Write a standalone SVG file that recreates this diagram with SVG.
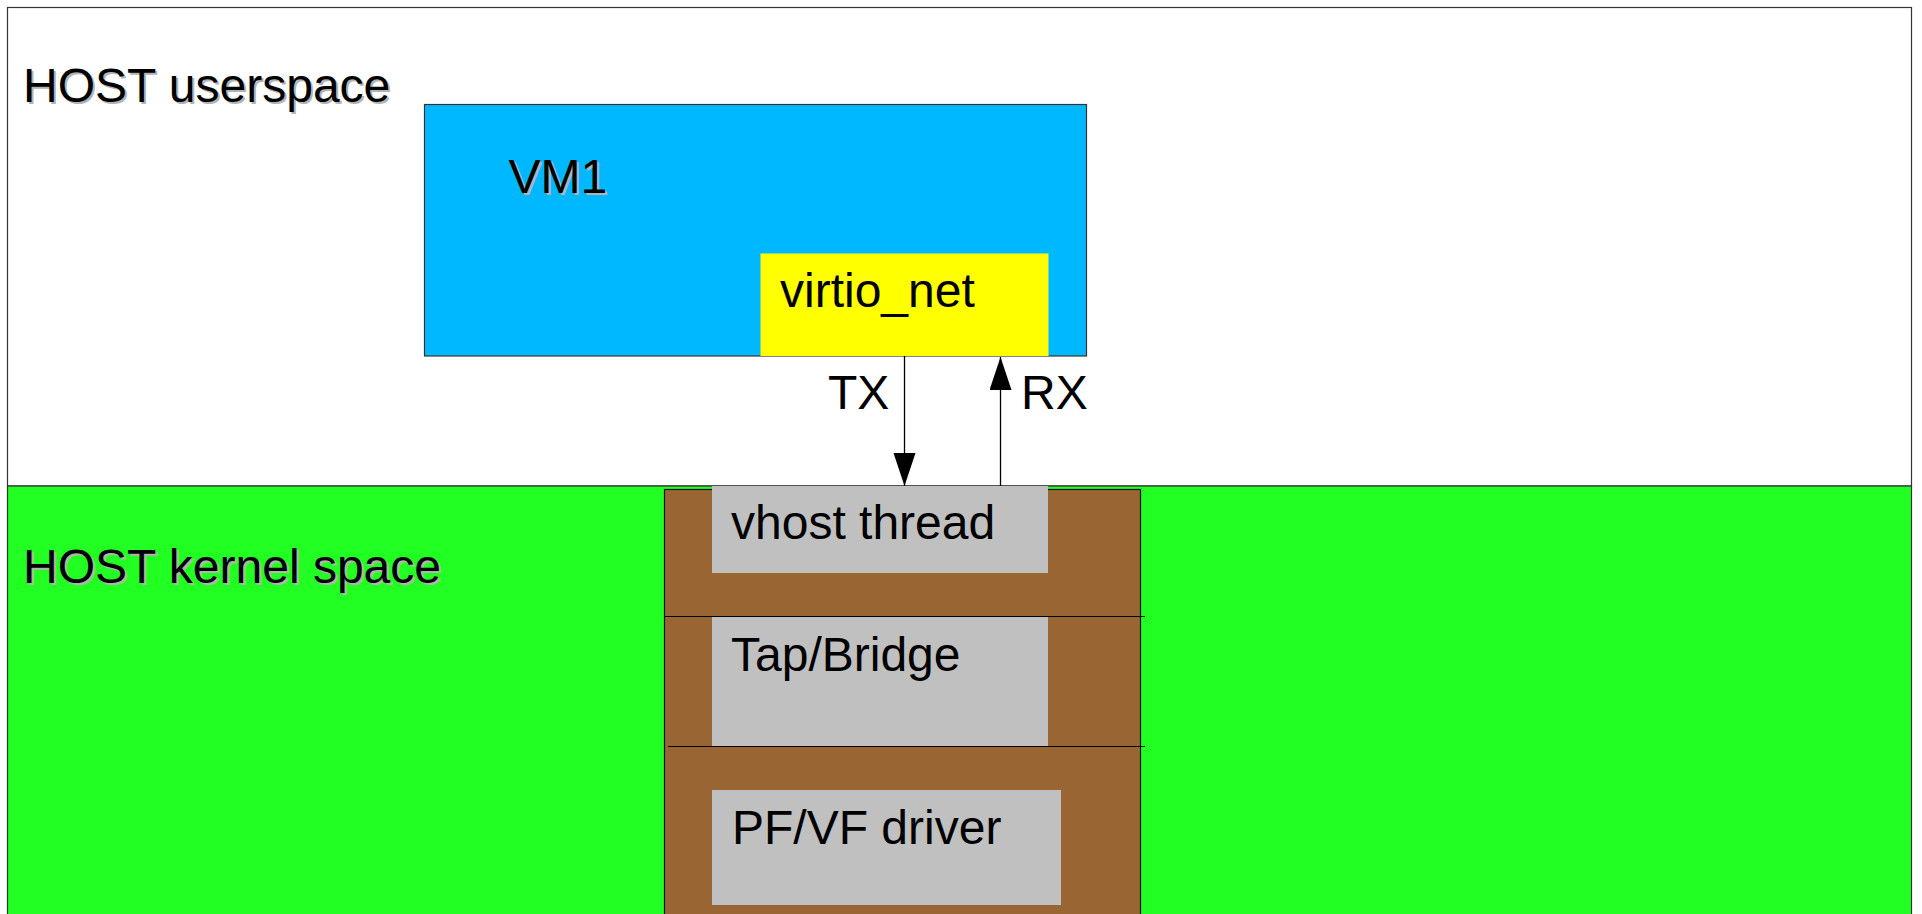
<svg xmlns="http://www.w3.org/2000/svg" width="1922" height="914" viewBox="0 0 1922 914">
<defs>
<style>
.lbl{font-family:"Liberation Sans",Arial,sans-serif;font-size:48px;fill:#000}
.shadow{font-family:"Liberation Sans",Arial,sans-serif;font-size:48px;fill:#b3b3b3}
.gray{fill:#c0c0c0}
.div{stroke:#000;stroke-width:1.2}
.conn{stroke:#000;stroke-width:1.3;fill:none}
</style>
<marker id="arrow" markerUnits="userSpaceOnUse" markerWidth="34" markerHeight="24" refX="33" refY="11" orient="auto" viewBox="0 0 34 24">
<path d="M0,0 L33,11 L0,22 z" fill="#000"/>
</marker>
</defs>
<rect width="1922" height="914" fill="#fff"/>
<g id="host-userspace">
<rect x="7.5" y="7.5" width="1904" height="478.5" fill="#fff" stroke="#333" stroke-width="1.2"/>
<text class="shadow" x="25" y="104">HOST userspace</text>
<text class="lbl" x="23" y="102">HOST userspace</text>
</g>
<g id="host-kernel-space">
<rect x="7.5" y="486" width="1904" height="440" fill="#22ff22" stroke="#333" stroke-width="1.2"/>
<text class="shadow" x="25" y="585">HOST kernel space</text>
<text class="lbl" x="23" y="583">HOST kernel space</text>
</g>
<g id="vm1">
<rect x="424.5" y="104.5" width="662" height="251.5" fill="#00b8ff" stroke="#333" stroke-width="1.2"/>
<text class="shadow" x="510.5" y="194.5">VM1</text>
<text class="lbl" x="508.5" y="192.5">VM1</text>
</g>
<g id="virtio-net">
<rect x="760.5" y="253.5" width="288" height="102.5" fill="#ffff00"/>
<text class="lbl" x="780" y="307">virtio_net</text>
</g>
<g id="kernel-stack">
<rect x="664.5" y="489.5" width="476" height="440" fill="#996633" stroke="#111" stroke-width="1.2"/>
<line class="div" x1="664.5" y1="616.5" x2="1145" y2="616.5"/>
<line class="div" x1="668" y1="746.5" x2="1145" y2="746.5"/>
</g>
<g id="vhost-thread">
<rect class="gray" x="712" y="486" width="336" height="87"/>
<text class="lbl" x="731" y="539">vhost thread</text>
</g>
<g id="tap-bridge">
<rect class="gray" x="712" y="617" width="336" height="129"/>
<text class="lbl" x="731" y="671">Tap/Bridge</text>
</g>
<g id="pf-vf-driver">
<rect class="gray" x="712" y="790" width="349" height="115"/>
<text class="lbl" x="732" y="844">PF/VF driver</text>
</g>
<g id="connectors">
<line class="conn" x1="904.5" y1="356" x2="904.5" y2="486" marker-end="url(#arrow)"/>
<line class="conn" x1="1000.5" y1="486" x2="1000.5" y2="357" marker-end="url(#arrow)"/>
<text class="lbl" x="828" y="409">TX</text>
<text class="lbl" x="1021" y="409">RX</text>
</g>
</svg>
